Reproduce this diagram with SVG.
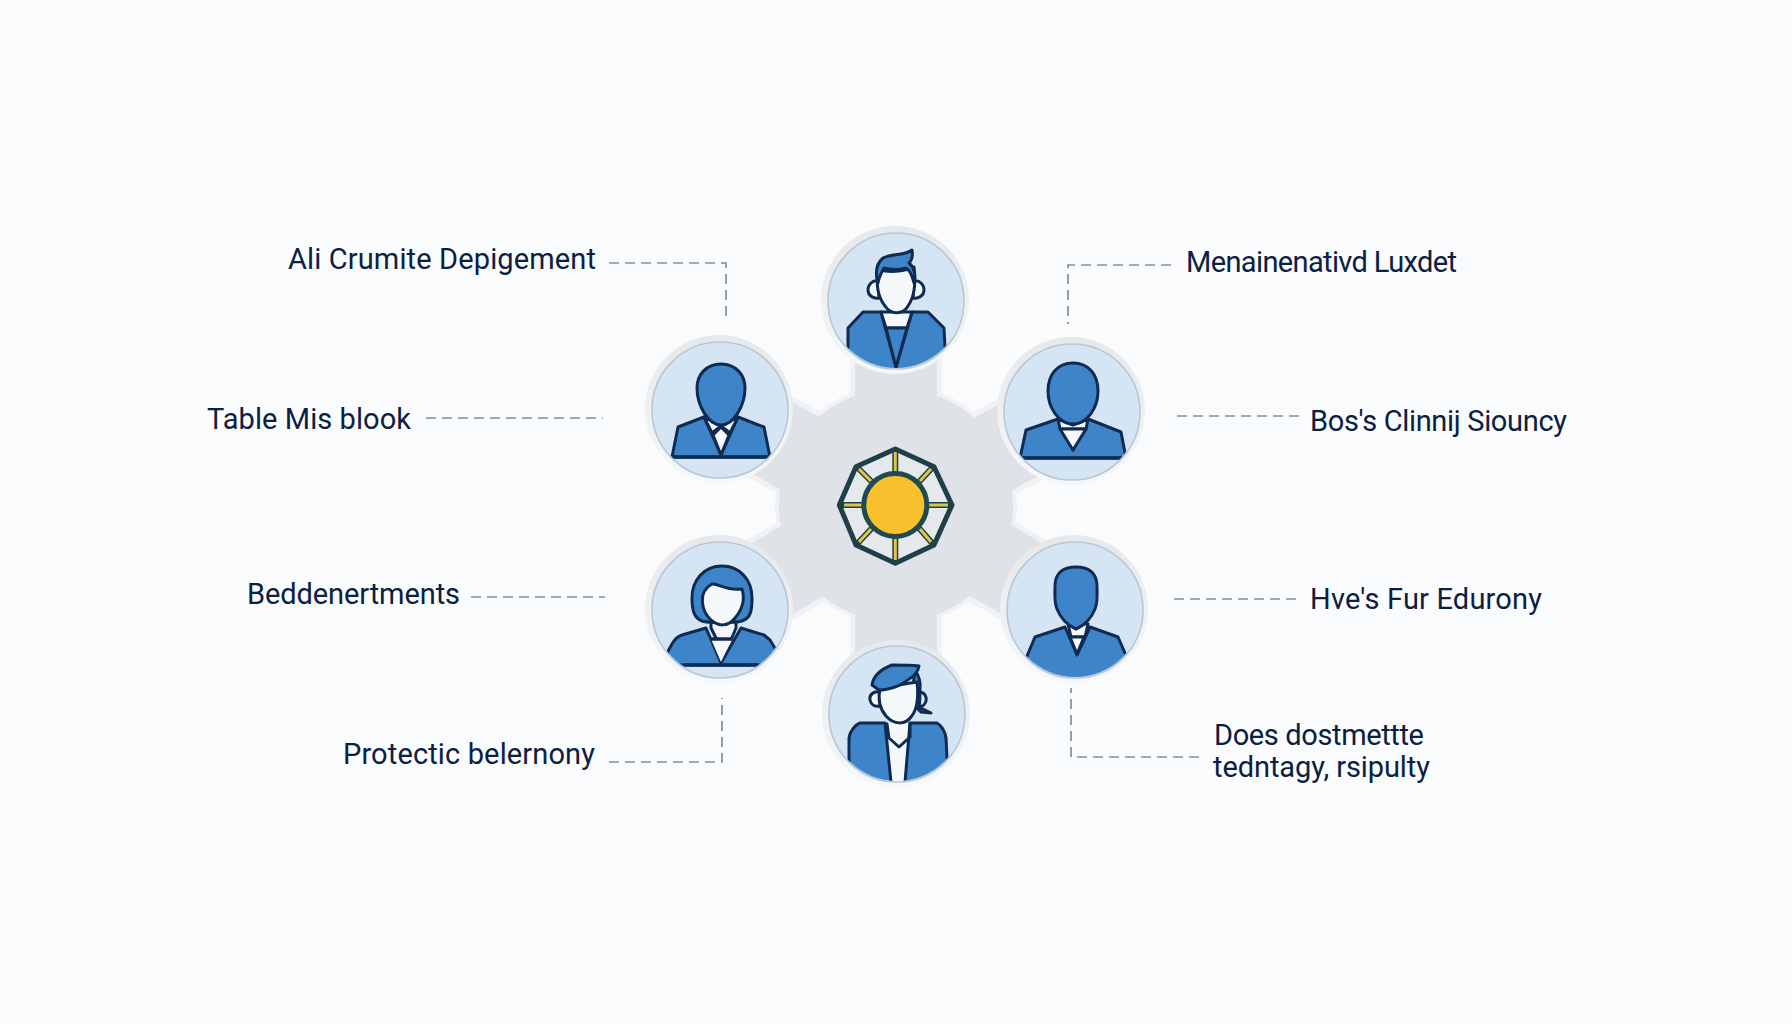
<svg xmlns="http://www.w3.org/2000/svg" width="1792" height="1024" viewBox="0 0 1792 1024">
<style>
.lbl{font-family:"Roboto","Liberation Sans",sans-serif;font-size:29px;fill:#0c2042}
.halo{fill:url(#haloGrad)}
.disc{fill:#d6e5f3;stroke:#b7c7d5;stroke-width:1.6}
.ink{stroke:#0f2b52;stroke-width:3;stroke-linejoin:round;stroke-linecap:round}
.line{stroke:#0f2b52;stroke-width:3;stroke-linejoin:round;stroke-linecap:round;fill:none}
.blue{fill:#3d85c8}
.white{fill:#f4f8fb}
.dash{fill:none;stroke:#7f8da3;stroke-width:1.7;stroke-dasharray:10 6}
.spoke-o{stroke:#f0f2f4;stroke-width:92}
.spoke{stroke:#dfe2e6;stroke-width:82}
.base{stroke:#0f2b52;stroke-width:3.4;fill:none}
</style>
<defs>
<clipPath id="clip"><circle cx="0" cy="0" r="67"/></clipPath>
<linearGradient id="haloGrad" x1="0" y1="0" x2="0" y2="1"><stop offset="0" stop-color="#e6e8ea"/><stop offset="1" stop-color="#f5f7f8"/></linearGradient>
</defs>
<rect width="1792" height="1024" fill="#f9fbfc"/>
<g id="hub">
<line class="spoke-o" x1="896" y1="505" x2="896" y2="301"/>
<line class="spoke-o" x1="896" y1="505" x2="896" y2="714"/>
<line class="spoke-o" x1="896" y1="505" x2="720" y2="410"/>
<line class="spoke-o" x1="896" y1="505" x2="1072" y2="412"/>
<line class="spoke-o" x1="896" y1="505" x2="720" y2="610"/>
<line class="spoke-o" x1="896" y1="505" x2="1075" y2="610"/>
<circle cx="896" cy="505" r="121" fill="#f0f2f4"/>
<line class="spoke" x1="896" y1="505" x2="896" y2="301"/>
<line class="spoke" x1="896" y1="505" x2="896" y2="714"/>
<line class="spoke" x1="896" y1="505" x2="720" y2="410"/>
<line class="spoke" x1="896" y1="505" x2="1072" y2="412"/>
<line class="spoke" x1="896" y1="505" x2="720" y2="610"/>
<line class="spoke" x1="896" y1="505" x2="1075" y2="610"/>
<circle cx="896" cy="505" r="117" fill="#dfe2e6"/>
<polygon points="895.3,449 934,466.7 952,505 934,545 895.3,563.3 856,545 839.3,505 856,466.7" fill="#e6e9ec"/>
<path fill="none" stroke="#1f4048" stroke-width="6" d="M895.3,474V450M895.3,536V562M864,505H841M927,505H950M873,483L857,467M918,483L933,467M873,527L857,544M918,527L933,544"/>
<path fill="none" stroke="#e2c544" stroke-width="3" d="M895.3,472V452M895.3,538V560M862,505H844M929,505H948M871,481L859,469M920,481L931,469M871,529L859,542M920,529L931,542"/>
<polygon points="895.3,449 934,466.7 952,505 934,545 895.3,563.3 856,545 839.3,505 856,466.7" fill="none" stroke="#1f4048" stroke-width="5" stroke-linejoin="round"/>
<circle cx="895.3" cy="505" r="31.5" fill="#fbc02d" stroke="#1f4a50" stroke-width="5"/>
</g>
<g id="connectors">
<path class="dash" d="M609,263H726V319"/>
<path class="dash" d="M426,418H603"/>
<path class="dash" d="M1171,265H1068V324"/>
<path class="dash" d="M1177,416H1303"/>
<path class="dash" d="M471,597H605"/>
<path class="dash" d="M609,762H722V698"/>
<path class="dash" d="M1174,599H1302"/>
<path class="dash" d="M1199,757H1071V688"/>
</g>
<g id="node-top">
<g transform="translate(896,301)">
<circle class="halo" cx="-1" cy="-1" r="74"/><circle class="disc" r="68"/>
<g clip-path="url(#clip)">
<path class="white ink" d="M-18,-20C-24,-21 -28,-16 -28,-11C-28,-5 -22,-2 -17,-3Z"/>
<path class="white ink" d="M18,-20C24,-21 28,-16 28,-11C28,-5 22,-2 17,-3Z"/>
<path class="blue" d="M-48,47V27L-33,11H-15L0,66L16,11H32L48,27L49,47V80H-48Z"/>
<path class="line" d="M-48,47V27L-33,11H-15L0,66L16,11H32L48,27L49,46"/>
<path class="white ink" d="M-15,11L-10,27H11L16,11Z"/>
<path class="blue ink" d="M-10,27H11L0,66Z"/>
<path class="white ink" d="M-18,-32C-20,-18 -19,-5 -11,5C-5,14 7,14 12,5C19,-5 20,-18 18,-34C8,-29 -8,-28 -18,-32Z"/>
<path class="blue ink" d="M-18,-18C-21,-28 -20,-37 -13,-43C-3,-48 9,-45 16,-51C17,-45 15,-40 13,-38C18,-34 20,-26 18,-18C16,-26 14,-31 10,-33C2,-30 -7,-32 -12,-33C-15,-28 -17,-24 -18,-18Z"/>
</g></g>
</g>
<g id="node-tl">
<g transform="translate(720,410)">
<circle class="halo" cx="-1" cy="-1" r="74"/><circle class="disc" r="68"/>
<g clip-path="url(#clip)">
<path class="blue ink" d="M-48,47L-42,17L-16,7L1,45L18,7L44,17L50,47Z"/>
<path class="white ink" d="M-16,7L-8,23L1,16L10,23L18,7L1,14Z"/>
<path class="white ink" d="M-7,25L1,17L9,25L1,45Z"/>
<path class="blue ink" d="M1,-46C16,-46 25,-35 25,-22C25,-5 14,15 1,15C-12,15 -23,-5 -23,-22C-23,-35 -14,-46 1,-46Z"/>
<path class="base" d="M-50,47H52"/>
</g></g>
<text class="lbl" x="288" y="269" textLength="308">Ali Crumite Depigement</text>
</g>
<g id="node-l">
<text class="lbl" x="207" y="429" textLength="204">Table Mis blook</text>
</g>
<g id="node-tr">
<g transform="translate(1072,412)">
<circle class="halo" cx="-1" cy="-1" r="74"/><circle class="disc" r="68"/>
<g clip-path="url(#clip)">
<path class="blue ink" d="M-52,46L-46,18L-14,7L1,38L16,7L49,20L54,46Z"/>
<path class="white ink" d="M-14,7L-12,17H14L16,7L1,13Z"/>
<path class="white ink" d="M-12,17H14L1,38Z"/>
<path class="blue ink" d="M1,-49C17,-49 26,-37 26,-21C26,-4 15,12 1,12C-13,12 -24,-4 -24,-21C-24,-37 -15,-49 1,-49Z"/>
<path class="base" d="M-50,46H52"/>
</g></g>
<text class="lbl" x="1186" y="272" textLength="271">Menainenativd Luxdet</text>
</g>
<g id="node-r">
<text class="lbl" x="1310" y="431" textLength="257">Bos's Clinnij Siouncy</text>
</g>
<g id="node-bl">
<g transform="translate(720,610)">
<circle class="halo" cx="-1" cy="-1" r="74"/><circle class="disc" r="68"/>
<g clip-path="url(#clip)">
<path class="blue ink" d="M-53,43L-48,34C-45,29 -42,26 -38,25L-14,18L1,53L21,18L44,25L50,30L56,40V55H-53Z"/>
<path class="white ink" d="M-9,6L-9,18L-3,30H11L16,18V6Z"/>
<path class="white" d="M-9,29H12L1,52Z"/>
<path class="base" d="M-9,29H12"/>
<path class="blue ink" d="M2,-44C20,-44 32,-30 32,-12C32,0 31,8 22,11C14,13 -12,13 -18,11C-26,8 -28,0 -28,-12C-28,-30 -16,-44 2,-44Z"/>
<path class="white ink" d="M-8,-26C-2,-27 6,-19 22,-21C25,-12 23,-1 15,8C8,17 -2,17 -10,9C-18,1 -23,-18 -8,-26Z"/>
<path class="base" d="M-36,55H38"/>
</g></g>
<text class="lbl" x="247" y="604" textLength="213">Beddenertments</text>
</g>
<g id="node-br">
<g transform="translate(1075,610)">
<circle class="halo" cx="-1" cy="-1" r="74"/><circle class="disc" r="68"/>
<g clip-path="url(#clip)">
<path class="blue" d="M-48,46L-40,27L-10,17L2,45L15,17L43,27L50,43V80H-48Z"/>
<path class="line" d="M-48,46L-40,27L-10,17L2,45L15,17L43,27L50,43"/>
<path class="white ink" d="M-7,14L-4,27H10L13,14Z"/>
<path class="white ink" d="M-5,27L9,27L2,44Z"/>
<path class="blue ink" d="M1,-43C14,-43 22,-37 22,-24C22,-15 23,-8 20,-1C16,9 8,16 1,19C-6,16 -14,9 -18,-1C-21,-8 -20,-15 -20,-24C-20,-37 -12,-43 1,-43Z"/>
</g></g>
<text class="lbl" x="1310" y="609" textLength="232">Hve's Fur Edurony</text>
</g>
<g id="node-bottom">
<g transform="translate(897,714)">
<circle class="halo" cx="-1" cy="0" r="74"/><circle class="disc" r="68"/>
<g clip-path="url(#clip)">
<path class="white ink" d="M-17,-22C-24,-23 -28,-19 -27,-14C-26,-9 -22,-7 -17,-8Z"/>
<path class="line" d="M22,-22C27,-22 30,-18 29,-13C28,-9 25,-7 21,-8"/>
<path class="blue ink" d="M18,-44C22,-38 24,-32 23,-25C23,-17 23,-12 22,-7L34,-1L24,-2C19,-6 16,-12 15,-20Z"/>
<path class="white" d="M-12,9H13V80H-12Z"/>
<path class="blue" d="M-48,47V24C-47,17 -42,11 -37,9H-12L-6,70H-60Z"/>
<path class="line" d="M-48,47V24C-47,17 -42,11 -37,9H-12L-6,68"/>
<path class="blue" d="M50,44L49,24C48,17 44,11 40,9H13L8,70H60Z"/>
<path class="line" d="M50,44L49,24C48,17 44,11 40,9H13L8,68"/>
<path class="line" d="M-10,10L-8,24L2,33L13,23V10"/>
<path class="white ink" d="M-17,-26C-19,-16 -18,-6 -11,2C-3,11 8,11 14,3C20,-4 22,-14 20,-32Z"/>
<path class="blue ink" d="M-25,-29C-24,-36 -18,-44 -5,-49C4,-49 14,-49 22,-48C21,-43 19,-40 15,-37C8,-32 3,-28 -2,-27C-8,-25 -14,-24 -18,-24Z"/>
</g></g>
<text class="lbl" x="343" y="764" textLength="252">Protectic belernony</text>
</g>
<g id="node-does">
<text class="lbl" x="1214" y="745" textLength="210">Does dostmettte</text>
<text class="lbl" x="1213" y="777" textLength="217">tedntagy, rsipulty</text>
</g>
</svg>
